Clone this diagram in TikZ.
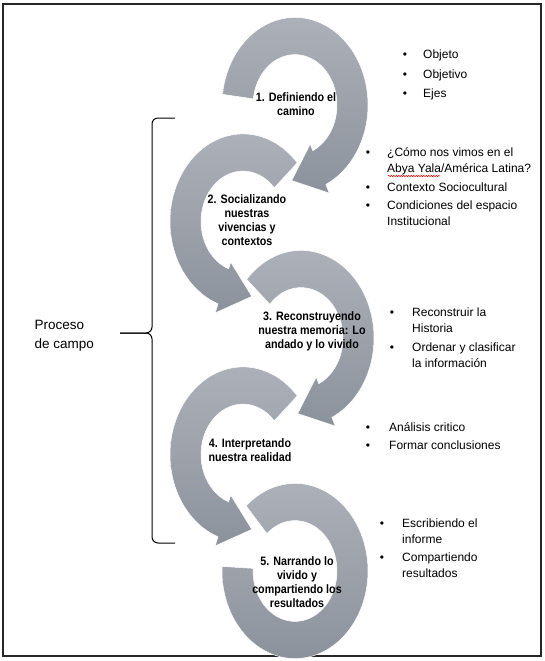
\documentclass[tikz,border=0pt]{standalone}
\usepackage{fontspec}
\setmainfont{Liberation Sans}
\newfontfamily\stepfont[FakeStretch=0.88]{Liberation Sans}
\usetikzlibrary{decorations.pathmorphing}

\definecolor{ringtop}{RGB}{172,176,184}
\definecolor{ringbot}{RGB}{140,146,156}

\tikzset{
  ring/.style={top color=ringtop, bottom color=ringbot, draw=white, line width=0.5pt},
  steptext/.style={font=\stepfont\bfseries\fontsize{12.2}{13.9}\selectfont, align=center, inner sep=0pt},
  itemtext/.style={font=\fontsize{12}{16}\selectfont, anchor=base west, inner sep=0pt},
  itemdot/.style={font=\fontsize{12}{16}\selectfont, anchor=base, inner sep=0pt},
}

% circular arrow: centre x, centre y, start angle, head base angle, tip angle
\newcommand{\circarrow}[5]{%
  \begin{scope}[shift={(#1,#2)}, yscale=1.2]
    \path[ring] plot[domain=#3:#4, samples=70] (\x:73) -- (#4:81) -- (#5:63)
      -- (#4:36) -- plot[domain=#4:#3, samples=70] (\x:42) -- cycle;
  \end{scope}}
% open ring without head: centre x, centre y, start angle, end angle
\newcommand{\openring}[4]{%
  \begin{scope}[shift={(#1,#2)}, yscale=1.2]
    \path[ring] plot[domain=#3:#4, samples=90] (\x:73)
      -- plot[domain=#4:#3, samples=90] (\x:42) -- cycle;
  \end{scope}}
% bullet item: name, bullet x, text x, baseline y of first line, text
\newcommand{\pointitem}[5]{%
  \node[itemdot] (#1dot) at (#2,#4) {\textbullet};
  \node[itemtext] (#1) at (#3,#4) {\begin{tabular}[t]{@{}l@{}}#5\end{tabular}};}

\begin{document}
\begin{tikzpicture}[x=1pt, y=-1pt]
\useasboundingbox (0,0) rectangle (545,661);
\draw[line width=1.2pt, black!85] (3,4) rectangle (541,656);

% the five steps
\circarrow{295}{105}{187}{425}{453}
\circarrow{243}{221.5}{-42}{-250}{-278}
\circarrow{301}{338}{222}{425}{453}
\circarrow{243}{454.5}{-42}{-250}{-278}
\openring{295}{571}{228}{543}

\node[steptext] (s1) at (296,104) {1. Definiendo el\\camino};
\node[steptext] (s2) at (247,220) {2. Socializando\\nuestras\\vivencias y\\contextos};
\node[steptext] (s3) at (312,331) {3. Reconstruyendo\\nuestra memoria: Lo\\andado y lo vivido};
\node[steptext] (s4) at (250,450) {4. Interpretando\\nuestra realidad};
\node[steptext] (s5) at (297,582) {5. Narrando lo\\vivido y\\compartiendo los\\resultados};

% notes on the right
\pointitem{o1}{405}{423}{59}{Objeto}
\pointitem{o2}{405}{423}{78}{Objetivo}
\pointitem{o3}{405}{423}{97}{Ejes}

\pointitem{c1}{368}{387}{156}{¿Cómo nos vimos en el\\Abya Yala/América Latina?}
\pointitem{c2}{368}{387}{191}{Contexto Sociocultural}
\pointitem{c3}{368}{387}{209}{Condiciones del espacio\\Institucional}
\draw[red, line width=0.5pt, decorate, decoration={snake, amplitude=0.7pt, segment length=2.5pt}]
  (388,176) -- (440,176);

\pointitem{r1}{392}{412}{316}{Reconstruir la\\Historia}
\pointitem{r2}{392}{412}{351}{Ordenar y clasificar\\la información}

\pointitem{a1}{368}{389}{431}{Análisis critico}
\pointitem{a2}{368}{389}{449}{Formar conclusiones}

\pointitem{e1}{382}{402}{527}{Escribiendo el\\informe}
\pointitem{e2}{382}{402}{561}{Compartiendo\\resultados}

% brace and its label
\draw[line width=1pt, rounded corners=6pt] (175,118) -- (152,118) -- (152,333) -- (120,333);
\draw[line width=1pt, rounded corners=6pt] (120,333) -- (152,333) -- (152,543) -- (175,543);
\node[font=\fontsize{13.5}{19}\selectfont, align=left, anchor=west] (campo) at (31,336) {Proceso\\de campo};
\end{tikzpicture}
\end{document}
